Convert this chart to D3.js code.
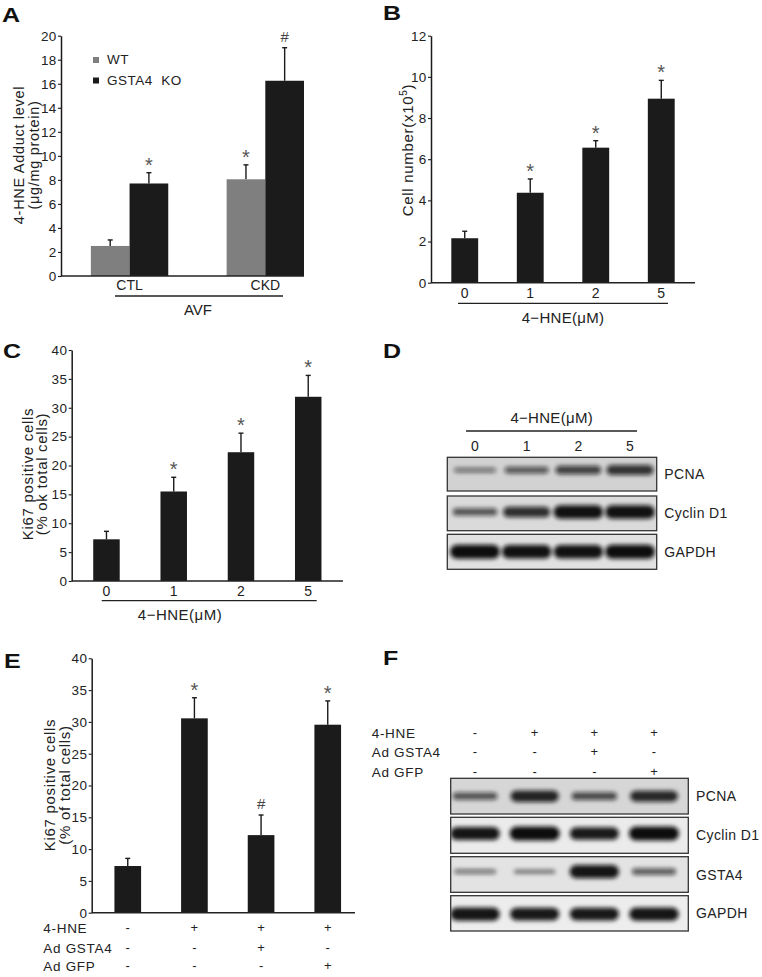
<!DOCTYPE html>
<html><head><meta charset="utf-8">
<script src="https://cdn.jsdelivr.net/npm/d3@7"></script>
<style>
body{margin:0;background:#fff}
svg text{font-family:"Liberation Sans",Arial,Helvetica,sans-serif}
</style>
</head><body>
<svg id="fig" width="762" height="977"></svg>
<script>
// ---------------- data ----------------
const aGroups = ["CTL", "CKD"];
const aSeries = ["WT", "GSTA4  KO"];
const aWT = [2.5, 8.05], aWTerr = [0.5, 1.2], aWTmark = ["", "*"];
const aKO = [7.7, 16.25], aKOerr = [0.9, 2.75], aKOmark = ["*", "#"];
const aTicks = [0, 2, 4, 6, 8, 10, 12, 14, 16, 18, 20];

const hneDoses = ["0", "1", "2", "5"];
const bCells = [2.16, 4.37, 6.56, 8.94], bErr = [0.34, 0.67, 0.34, 0.89], bMark = ["", "*", "*", "*"];
const bTicks = [0, 2, 4, 6, 8, 10, 12];

const cKi67 = [7.22, 15.5, 22.3, 31.9], cErr = [1.38, 2.46, 3.3, 3.7], cMark = ["", "*", "*", "*"];
const pctTicks = [0, 5, 10, 15, 20, 25, 30, 35, 40];

const eLanes = ["L1", "L2", "L3", "L4"];
const eKi67 = [7.34, 30.56, 12.2, 29.56], eErr = [1.2, 3.24, 3.16, 3.74], eMark = ["", "*", "#", "*"];
const treatRows = ["4-HNE", "Ad GSTA4", "Ad GFP"];
const treatHNE = ["-", "+", "+", "+"];
const treatGSTA4 = ["-", "-", "+", "-"];
const treatGFP = ["-", "-", "-", "+"];

const dProteins = ["PCNA", "Cyclin D1", "GAPDH"];
const dPCNA = [0.35, 0.5, 0.65, 0.75];
const dCyclin = [0.55, 0.78, 0.97, 0.97];
const dGAPDH = [1, 0.97, 0.97, 1];

const fProteins = ["PCNA", "Cyclin D1", "GSTA4", "GAPDH"];
const fPCNA = [0.55, 0.85, 0.6, 0.82];
const fCyclin = [0.95, 1, 0.92, 1];
const fGSTA4 = [0.35, 0.3, 0.95, 0.5];
const fGAPDH = [0.95, 0.93, 0.93, 0.95];

// ---------------- helpers ----------------
const svg = d3.select("#fig");
const FONT = '"Liberation Sans",Arial,Helvetica,sans-serif';
const INK = "#1b1b1b";

const defs = svg.append("defs");
defs.append("filter").attr("id", "blur").attr("x", "-30%").attr("y", "-100%").attr("width", "160%").attr("height", "300%")
  .append("feGaussianBlur").attr("stdDeviation", 2);

function txt(g, x, y, s, size, opts = {}) {
  const t = g.append("text").attr("x", x).attr("y", y).attr("font-size", size)
    .attr("fill", opts.fill || "#222").attr("text-anchor", opts.anchor || "start").text(s);
  if (opts.weight) t.attr("font-weight", opts.weight);
  if (opts.dy) t.attr("dy", opts.dy);
  if (opts.ls) t.attr("letter-spacing", opts.ls);
  return t;
}
function hline(g, x0, x1, y, w = 1.3) {
  g.append("line").attr("x1", x0).attr("x2", x1).attr("y1", y).attr("y2", y)
    .attr("stroke", "#222").attr("stroke-width", w);
}
function yAxis(g, y, ticks, x) {
  const ax = g.append("g").attr("transform", `translate(${x},0)`)
    .call(d3.axisLeft(y).tickValues(ticks).tickSize(3).tickSizeOuter(0).tickPadding(1.5));
  ax.attr("font-family", FONT);
  ax.select(".domain").attr("stroke", INK).attr("stroke-width", 1.5);
  ax.selectAll(".tick line").attr("stroke", INK).attr("stroke-width", 1.1);
  ax.selectAll(".tick text").attr("font-size", 13.5).attr("fill", "#222").attr("letter-spacing", 0.3);
}
function rotTitle(g, cy, lines, size) {
  lines.forEach(([s, bx]) => {
    g.append("text").attr("transform", `translate(${bx},${cy}) rotate(-90)`)
      .attr("text-anchor", "middle").attr("font-size", size).attr("letter-spacing", 0.7)
      .attr("fill", "#222").text(s);
  });
}
function drawBars(g, xpos, bw, y, vals, errs, marks, color) {
  vals.forEach((v, i) => {
    const x0 = xpos[i], cx = x0 + bw / 2;
    const top = y(v + errs[i]);
    g.append("line").attr("x1", cx).attr("x2", cx).attr("y1", y(v)).attr("y2", top)
      .attr("stroke", INK).attr("stroke-width", 1.4);
    g.append("line").attr("x1", cx - 2.5).attr("x2", cx + 2.5).attr("y1", top).attr("y2", top)
      .attr("stroke", INK).attr("stroke-width", 1.4);
    g.append("rect").attr("x", x0).attr("y", y(v)).attr("width", bw).attr("height", y(0) - y(v))
      .attr("fill", color);
    const m = marks[i];
    if (m === "*") txt(g, cx, top - 1, "*", 20, { anchor: "middle", fill: "#555" });
    else if (m === "#") txt(g, cx, top - 6, "#", 15, { anchor: "middle", fill: "#444" });
  });
}
function label(g, x, y, s) {
  g.append("text").attr("transform", `translate(${x},${y}) scale(1.25,1)`)
    .attr("font-size", 20).attr("font-weight", "bold").attr("fill", "#111").text(s);
}

// ---------------- Panel A ----------------
{
  const g = svg.append("g");
  label(g, 2, 21.5, "A");
  const y = d3.scaleLinear().domain([0, 20]).range([276, 35.7]);
  const xg = d3.scaleBand().domain(aGroups).range([61, 304]).paddingInner(0.43).paddingOuter(0.11).align(1);
  const xs = d3.scaleBand().domain(aSeries).range([0, xg.bandwidth()]);
  drawBars(g, aGroups.map(c => xg(c) + xs(aSeries[0])), xs.bandwidth(), y, aWT, aWTerr, aWTmark, "#7f7f7f");
  drawBars(g, aGroups.map(c => xg(c) + xs(aSeries[1])), xs.bandwidth(), y, aKO, aKOerr, aKOmark, INK);
  yAxis(g, y, aTicks, 61);
  hline(g, 61, 304, 276, 1.5);
  const legColors = ["#7f7f7f", INK];
  aSeries.forEach((s, i) => {
    g.append("rect").attr("x", 93).attr("y", 57 + i * 20.5).attr("width", 6).attr("height", 6).attr("fill", legColors[i]);
    txt(g, 107, 64 + i * 20.5, s, 13.5, { ls: 0.5 }).style("white-space", "pre");
  });
  aGroups.forEach(c => txt(g, xg(c) + xg.bandwidth() / 2, 290, c, 14, { anchor: "middle" }));
  hline(g, 115, 283, 296);
  txt(g, 198, 315, "AVF", 15, { anchor: "middle" });
  rotTitle(g, 155, [["4-HNE Adduct  level", 24], ["(\u03bcg/mg protein)", 38.5]], 14.5);
}

// ---------------- Panel B ----------------
{
  const g = svg.append("g");
  label(g, 383, 20, "B");
  const y = d3.scaleLinear().domain([0, 12]).range([282.7, 35.7]);
  const x = d3.scaleBand().domain(hneDoses).range([431, 695]).paddingInner(0.59).paddingOuter(0.31).align(0.5);
  drawBars(g, hneDoses.map(d => x(d)), x.bandwidth(), y, bCells, bErr, bMark, INK);
  yAxis(g, y, bTicks, 431);
  hline(g, 431, 695, 282.7, 1.5);
  hneDoses.forEach(d => txt(g, x(d) + x.bandwidth() / 2, 298, d, 14, { anchor: "middle" }));
  hline(g, 458, 668, 303.3);
  txt(g, 563, 323, "4\u2212HNE(\u03bcM)", 15, { anchor: "middle", ls: 0.3 });
  const t = g.append("text").attr("transform", "translate(413,150) rotate(-90)")
    .attr("text-anchor", "middle").attr("font-size", 15).attr("letter-spacing", 0.7).attr("fill", "#222");
  t.append("tspan").text("Cell number(x10");
  t.append("tspan").attr("font-size", 10).attr("dy", -6).text("5");
  t.append("tspan").attr("dy", 6).text(")");
}

// ---------------- Panel C ----------------
{
  const g = svg.append("g");
  label(g, 3, 358, "C");
  const y = d3.scaleLinear().domain([0, 40]).range([581, 350]);
  const x = d3.scaleBand().domain(hneDoses).range([71.7, 343]).paddingInner(0.606).paddingOuter(0.32).align(0.5);
  drawBars(g, hneDoses.map(d => x(d)), x.bandwidth(), y, cKi67, cErr, cMark, INK);
  yAxis(g, y, pctTicks, 71.7);
  hline(g, 71.7, 343, 581, 1.5);
  hneDoses.forEach(d => txt(g, x(d) + x.bandwidth() / 2, 595.7, d, 14, { anchor: "middle" }));
  hline(g, 101.7, 316.7, 600.7);
  txt(g, 180, 620, "4\u2212HNE(\u03bcM)", 15, { anchor: "middle", ls: 0.5 });
  rotTitle(g, 474, [["Ki67 positive cells", 32.5], ["(% ok total cells)", 47]], 15);
}

// ---------------- Panel E ----------------
{
  const g = svg.append("g");
  label(g, 4, 668, "E");
  const y = d3.scaleLinear().domain([0, 40]).range([912.7, 658.3]);
  const x = d3.scaleBand().domain(eLanes).range([91.7, 355]).paddingInner(0.6).paddingOuter(0.275).align(0.62);
  drawBars(g, eLanes.map(d => x(d)), x.bandwidth(), y, eKi67, eErr, eMark, INK);
  yAxis(g, y, pctTicks, 91.7);
  hline(g, 91.7, 355, 912.7, 1.5);
  rotTitle(g, 785, [["Ki67 positive cells", 54.5], ["(% of total cells)", 70]], 15);
  const rows = [treatHNE, treatGSTA4, treatGFP];
  const rowY = [933, 952.7, 970.7];
  treatRows.forEach((r, i) => {
    txt(g, 43.3, rowY[i], r, 13.5, { ls: 0.7 });
    rows[i].forEach((s, j) => txt(g, x(eLanes[j]) + x.bandwidth() / 2, rowY[i] - 1, s, 13, { anchor: "middle" }));
  });
}

// ---------------- Western blots ----------------
function blot(g, id, x0, x1, rows, lanes, proteins, intens, bgs, vfrac, labelX) {
  const lx = d3.scalePoint().domain(lanes).range([lanes.xs[0], lanes.xs[1]]);
  const thick = d3.scalePow().exponent(1.5).domain([0, 1]).range([2.5, 14]);
  const wid = d3.scaleLinear().domain([0, 1]).range([38, 50]);
  const op = d3.scaleLinear().domain([0, 1]).range([0.3, 1]);
  proteins.forEach((p, k) => {
    const [ry0, ry1] = rows[k];
    const cid = `${id}clip${k}`;
    defs.append("clipPath").attr("id", cid).append("rect")
      .attr("x", x0).attr("y", ry0).attr("width", x1 - x0).attr("height", ry1 - ry0);
    g.append("rect").attr("x", x0).attr("y", ry0).attr("width", x1 - x0).attr("height", ry1 - ry0)
      .attr("fill", bgs[k]);
    const bg = g.append("g").attr("clip-path", `url(#${cid})`);
    const cy = ry0 + (ry1 - ry0) * vfrac[k];
    intens[k].forEach((v, j) => {
      const h = thick(v), w = wid(v);
      bg.append("rect").attr("x", lx(lanes[j]) - w / 2).attr("y", cy - h / 2)
        .attr("width", w).attr("height", h).attr("rx", Math.min(h / 2, 7)).attr("ry", h / 2)
        .attr("fill", "#111").attr("fill-opacity", op(v)).attr("filter", "url(#blur)");
    });
    g.append("rect").attr("x", x0).attr("y", ry0).attr("width", x1 - x0).attr("height", ry1 - ry0)
      .attr("fill", "none").attr("stroke", "#333").attr("stroke-width", 1.3);
    txt(g, labelX, (ry0 + ry1) / 2, p, 14, { dy: "0.36em", ls: 0.4 });
  });
  return lx;
}

// ---------------- Panel D ----------------
{
  const g = svg.append("g");
  label(g, 383, 358, "D");
  txt(g, 551.7, 423, "4\u2212HNE(\u03bcM)", 15, { anchor: "middle", ls: 0.3 });
  hline(g, 466, 637, 431, 1.5);
  const lanes = hneDoses.slice(); lanes.xs = [475, 630];
  const lx = blot(g, "d", 447.3, 656.7, [[457.3, 491], [496, 530.7], [534.3, 569.3]], lanes,
    dProteins, [dPCNA, dCyclin, dGAPDH], ["#d2d2d2", "#dadada", "#e1e1e1"], [0.38, 0.46, 0.5], 664.3);
  hneDoses.forEach(d => txt(g, lx(d), 450.7, d, 14, { anchor: "middle" }));
}

// ---------------- Panel F ----------------
{
  const g = svg.append("g");
  label(g, 383, 665, "F");
  const lanes = eLanes.slice(); lanes.xs = [475, 654];
  const lx = blot(g, "f", 450.7, 688.3, [[778.3, 814], [817.3, 853.3], [856.7, 892.3], [895.7, 931]], lanes,
    fProteins, [fPCNA, fCyclin, fGSTA4, fGAPDH], ["#d6d6d6", "#ebebeb", "#e3e3e3", "#ededed"], [0.5, 0.45, 0.42, 0.52], 696);
  const rows = [treatHNE, treatGSTA4, treatGFP];
  const rowY = [738.3, 757.3, 776.7];
  treatRows.forEach((r, i) => {
    txt(g, 371.7, rowY[i], r, 13.5, { ls: 0.7 });
    rows[i].forEach((s, j) => txt(g, lx(eLanes[j]), rowY[i] - 1, s, 13, { anchor: "middle" }));
  });
}
</script>
</body></html>
